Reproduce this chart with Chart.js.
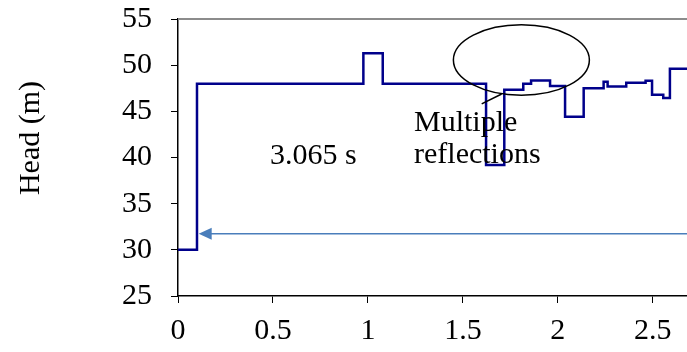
<!DOCTYPE html>
<html>
<head>
<meta charset="utf-8">
<script src="https://cdn.jsdelivr.net/npm/chart.js@4"></script>
<style>
  html, body { margin: 0; padding: 0; background: #fff; }
  #wrap { width: 687px; height: 352px; }
</style>
</head>
<body>
<div id="wrap"><canvas id="headChart" width="687" height="352"></canvas></div>
<script>
// time (s) where each head level starts, and the head (m) held from there
var times = [0, 0.1, 0.976, 1.078, 1.622, 1.718, 1.818, 1.859, 1.959, 2.038, 2.136, 2.241, 2.262, 2.36, 2.462, 2.496, 2.555, 2.59, 2.68];
var heads = [30, 48, 51.3, 48, 39.2, 47.35, 48.0, 48.35, 47.75, 44.4, 47.5, 48.2, 47.7, 48.1, 48.3, 46.8, 46.45, 49.6, 49.6];
var xTicks = [0, 0.5, 1, 1.5, 2, 2.5];
var yTicks = [25, 30, 35, 40, 45, 50, 55];

var serif = "'Liberation Serif', 'Times New Roman', serif";

// annotations (data units)
var arrowFrom = {x: 2.68, y: 31.73};
var arrowTo = {x: 0.109, y: 31.73};
var ellipse = {x: 1.808, y: 50.56, rx: 0.358, ry: 3.82};
var leader = [{x: 1.704, y: 46.88}, {x: 1.599, y: 45.8}];

var points = times.map(function(t, i){ return {x: t, y: heads[i]}; });

var extras = {
  id: 'extras',
  afterDatasetsDraw: function(chart){
    var ctx = chart.ctx, xs = chart.scales.x, ys = chart.scales.y, a = chart.chartArea;
    ctx.save();
    // top frame line
    ctx.strokeStyle = '#8c8c8c';
    ctx.lineWidth = 2;
    ctx.beginPath();
    ctx.moveTo(a.left, a.top);
    ctx.lineTo(chart.width, a.top);
    ctx.stroke();

    // arrow
    var x1 = xs.getPixelForValue(arrowFrom.x), y1 = ys.getPixelForValue(arrowFrom.y);
    var x2 = xs.getPixelForValue(arrowTo.x), y2 = ys.getPixelForValue(arrowTo.y);
    ctx.strokeStyle = '#4a7ebb';
    ctx.fillStyle = '#4a7ebb';
    ctx.lineWidth = 1.5;
    ctx.beginPath();
    ctx.moveTo(x1, y1);
    ctx.lineTo(x2 + 10, y2);
    ctx.stroke();
    ctx.beginPath();
    ctx.moveTo(x2, y2);
    ctx.lineTo(x2 + 13, y2 - 6);
    ctx.lineTo(x2 + 13, y2 + 6);
    ctx.closePath();
    ctx.fill();

    // ellipse
    var cx = xs.getPixelForValue(ellipse.x), cy = ys.getPixelForValue(ellipse.y);
    var rx = Math.abs(xs.getPixelForValue(ellipse.x + ellipse.rx) - cx);
    var ry = Math.abs(ys.getPixelForValue(ellipse.y + ellipse.ry) - cy);
    ctx.strokeStyle = '#000';
    ctx.lineWidth = 1.5;
    ctx.beginPath();
    ctx.ellipse(cx, cy, rx, ry, 0, 0, Math.PI * 2);
    ctx.stroke();
    ctx.beginPath();
    ctx.moveTo(xs.getPixelForValue(leader[0].x), ys.getPixelForValue(leader[0].y));
    ctx.lineTo(xs.getPixelForValue(leader[1].x), ys.getPixelForValue(leader[1].y));
    ctx.stroke();

    // texts
    ctx.fillStyle = '#000';
    ctx.font = '30px ' + serif;
    ctx.textBaseline = 'alphabetic';
    ctx.textAlign = 'left';
    ctx.fillText('3.065 s', 270, 164);
    ctx.fillText('Multiple', 414, 131);
    ctx.fillText('reflections', 414, 163);

    // y axis title
    ctx.translate(31, 138);
    ctx.rotate(-Math.PI / 2);
    ctx.textAlign = 'center';
    ctx.textBaseline = 'middle';
    ctx.font = '30px ' + serif;
    ctx.fillText('Head (m)', 0, 0);
    ctx.restore();
  }
};

new Chart(document.getElementById('headChart'), {
  type: 'line',
  data: {
    datasets: [{
      label: 'Head',
      data: points,
      stepped: 'before',
      borderColor: '#00008b',
      borderWidth: 2.5,
      pointRadius: 0,
      fill: false
    }]
  },
  options: {
    responsive: false,
    animation: false,
    devicePixelRatio: 1,
    layout: { autoPadding: false, padding: { top: 19, right: 0, bottom: 0, left: 0 } },
    plugins: { legend: { display: false }, tooltip: { enabled: false } },
    scales: {
      x: {
        type: 'linear',
        min: 0,
        max: 2.68,
        afterFit: function(s){ s.height = 56; s.paddingLeft = 0; s.paddingRight = 0; },
        afterBuildTicks: function(s){ s.ticks = xTicks.map(function(v){ return {value: v}; }); },
        ticks: { color: '#000', font: { family: serif, size: 30 }, padding: 10, maxRotation: 0, includeBounds: false,
          callback: function(v){ return String(v); } },
        grid: { drawOnChartArea: false, drawTicks: true, tickLength: 7, color: '#000' },
        border: { display: true, color: '#000', width: 1.5 }
      },
      y: {
        min: 25,
        max: 55,
        afterFit: function(s){ s.width = 178; s.paddingTop = 0; s.paddingBottom = 0; },
        afterBuildTicks: function(s){ s.ticks = yTicks.map(function(v){ return {value: v}; }); },
        ticks: { color: '#000', font: { family: serif, size: 30 }, padding: 19 },
        grid: { drawOnChartArea: false, drawTicks: true, tickLength: 7, color: '#000' },
        border: { display: true, color: '#000', width: 1.5 }
      }
    }
  },
  plugins: [extras]
});
</script>
</body>
</html>
